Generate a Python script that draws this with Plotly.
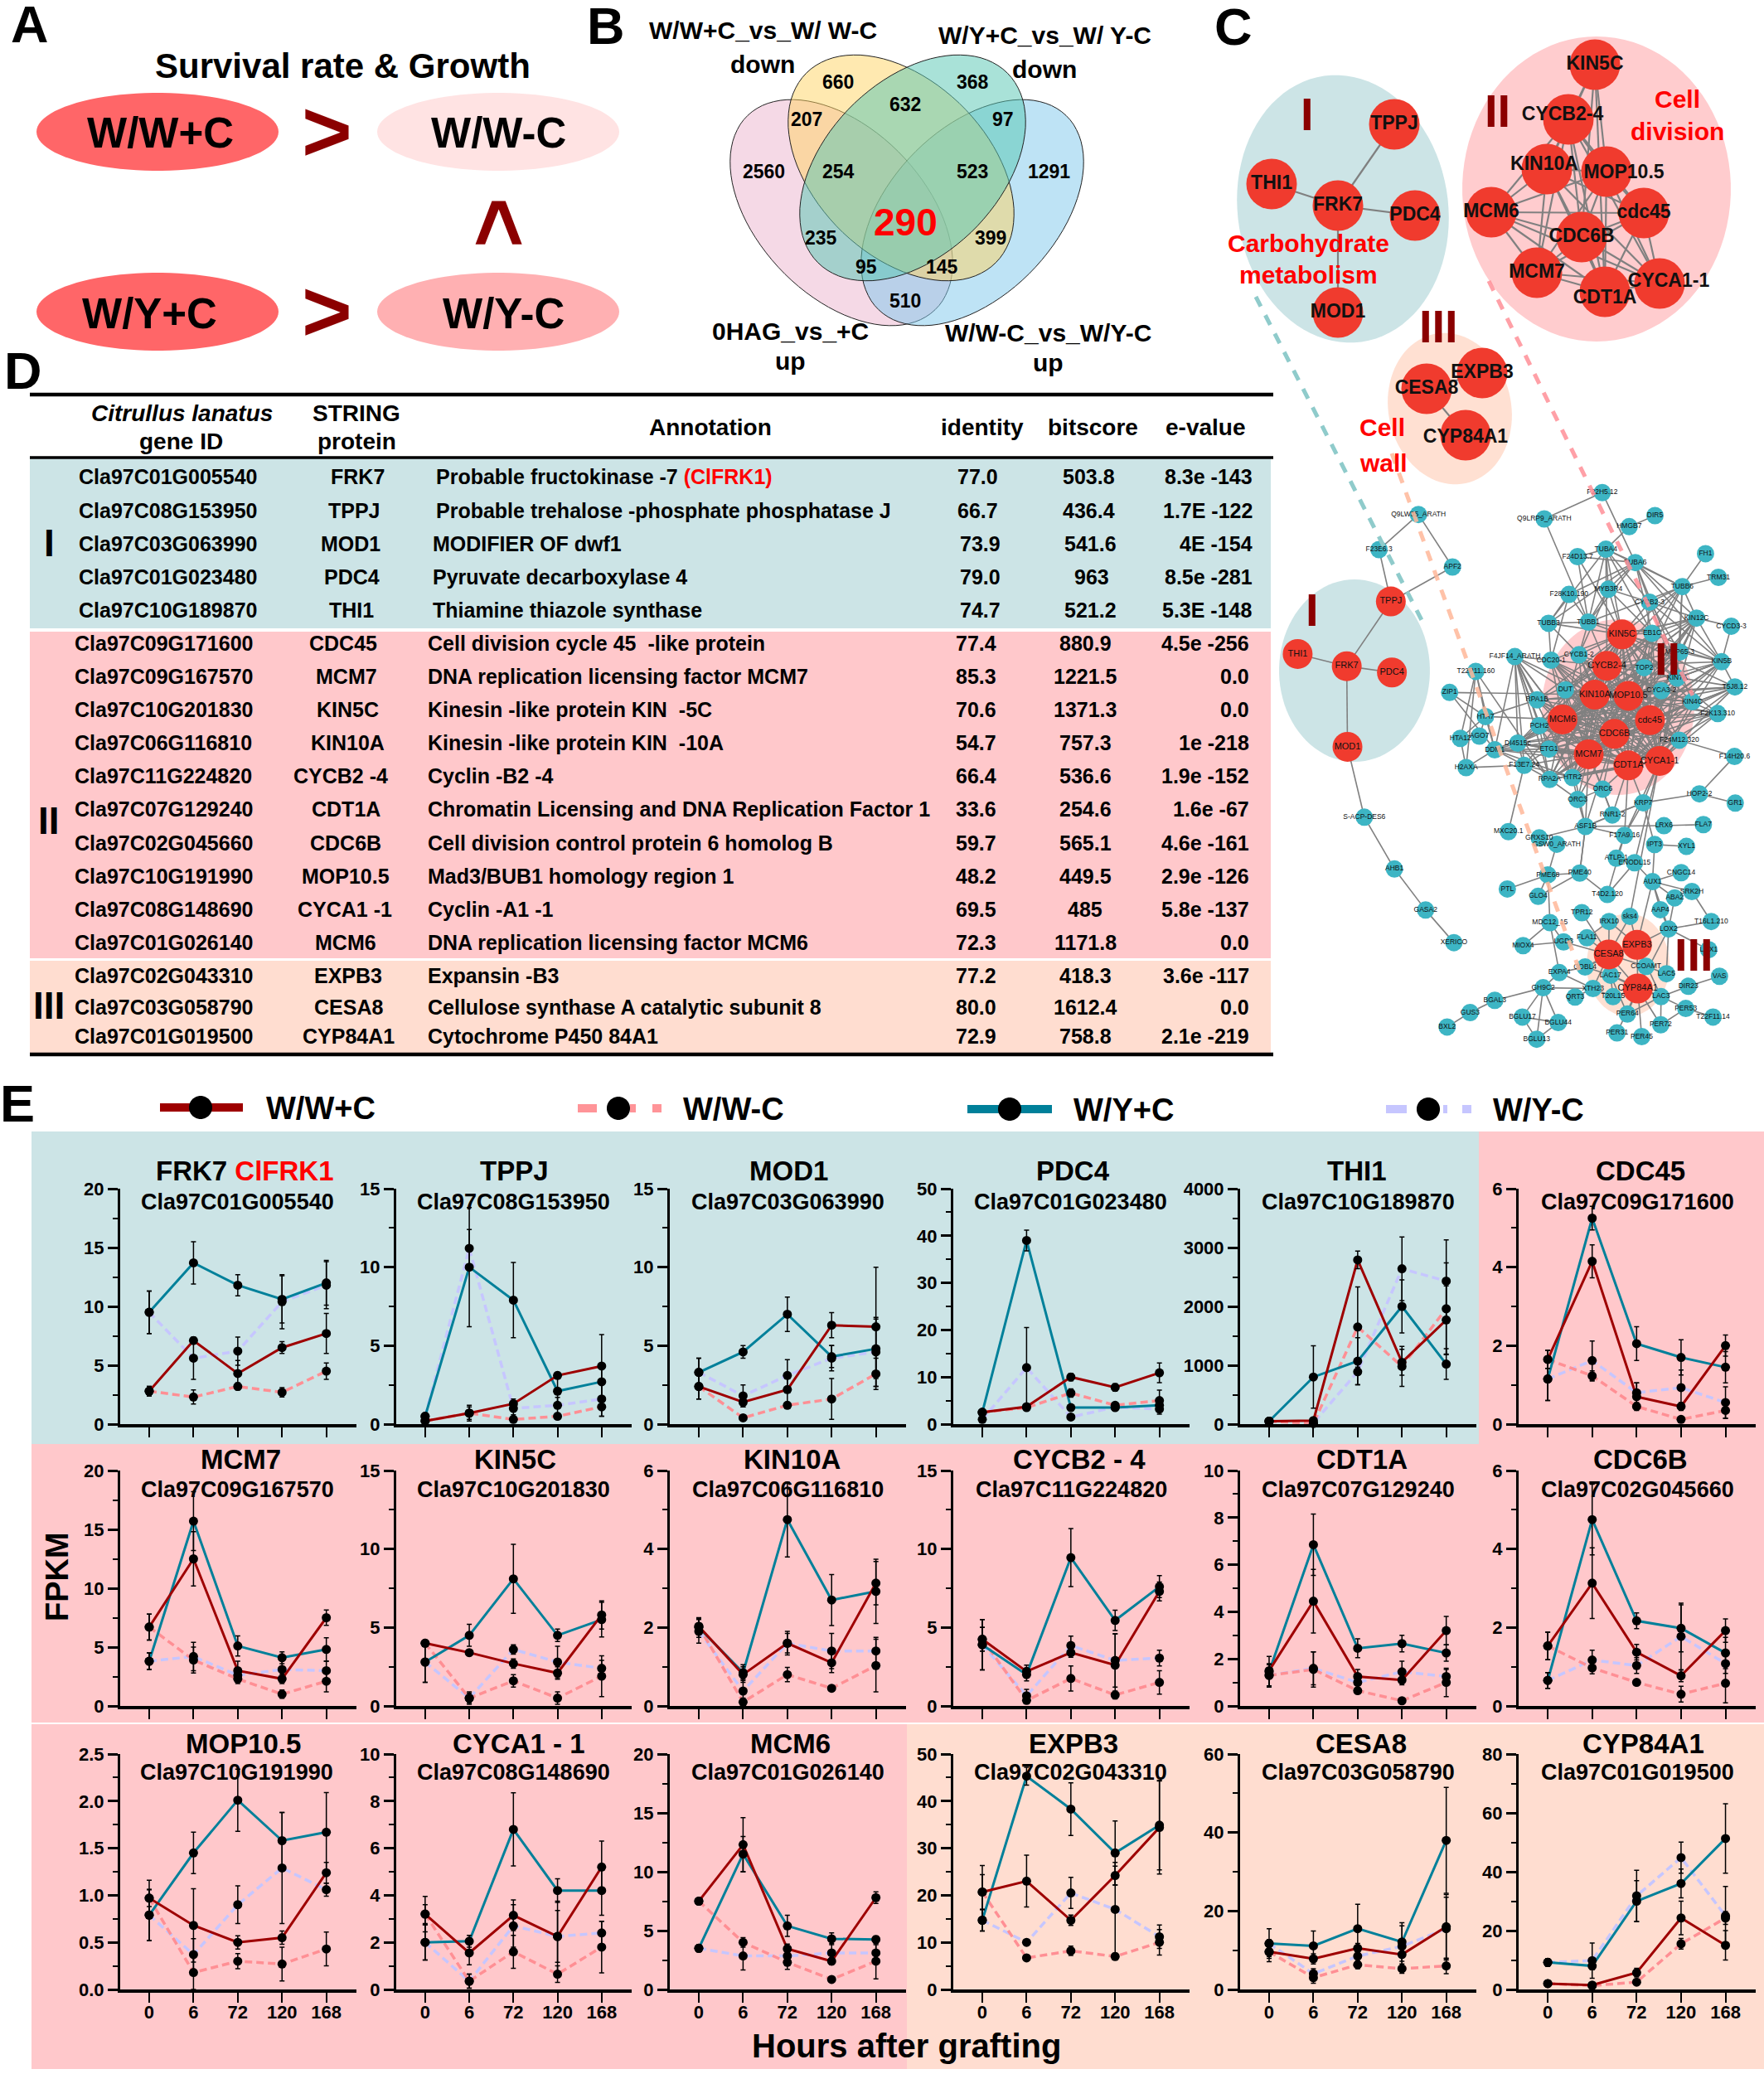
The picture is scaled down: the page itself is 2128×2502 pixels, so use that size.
import numpy as np
from itertools import combinations
import plotly.graph_objects as go

W, H = 2128, 2502
FONT = "Liberation Sans"

# ---------- panel E data ----------
HOURS = ["0", "6", "72", "120", "168"]
FRK7_A = [2.8, 7.1, 4.3, 6.5, 7.7];      FRK7_Ae = [.4, .2, 1.1, .5, 1.7]
FRK7_B = [2.8, 2.3, 3.2, 2.7, 4.5];      FRK7_Be = [.4, .6, .3, .4, .7]
FRK7_C = [9.5, 13.7, 11.8, 10.6, 12.0];  FRK7_Ce = [1.8, 1.8, .9, 2.0, 1.9]
FRK7_D = [9.5, 5.6, 6.2, 10.4, 11.8];    FRK7_De = [1.8, 1.8, 1.2, 2.3, 2.0]
TPPJ_A = [.2, .7, 1.3, 3.1, 3.7];        TPPJ_Ae = [.1, .5, .3, .2, 2.0]
TPPJ_B = [.2, .7, .3, .5, 1.1];          TPPJ_Be = [.1, .4, .1, .2, .6]
TPPJ_C = [.5, 10, 7.9, 2.1, 2.7];        TPPJ_Ce = [.2, 3.8, 2.4, .9, 1.0]
TPPJ_D = [.5, 11.2, 1.0, 1.2, 1.6];      TPPJ_De = [.2, 1.2, .4, .5, 1.1]
MOD1_A = [2.4, 1.4, 2.2, 6.3, 6.2];      MOD1_Ae = [.8, .3, 1.0, .8, 3.8]
MOD1_B = [2.4, .4, 1.2, 1.6, 3.2];       MOD1_Be = [.8, .2, .2, 1.3, 1.0]
MOD1_C = [3.3, 4.6, 7.0, 4.3, 4.8];      MOD1_Ce = [.9, .4, 1.1, .7, 1.9]
MOD1_D = [3.3, 1.8, 3.1, 4.2, 4.6];      MOD1_De = [.9, .7, 1.0, .8, 2.2]
PDC4_A = [2.5, 3.7, 10, 7.8, 10.9];      PDC4_Ae = [.3, .4, .8, .8, 2.1]
PDC4_B = [2.5, 3.5, 6.6, 4, 5];          PDC4_Be = [.3, .4, .9, .5, 2.2]
PDC4_C = [2.5, 39, 3.5, 3.5, 4];         PDC4_Ce = [.3, 2.2, .5, .4, 1.2]
PDC4_D = [1, 12, 1.5, 3.6, 3.2];         PDC4_De = [.2, 8.5, .4, .5, 1.1]
THI1_A = [50, 60, 2790, 1050, 1770];     THI1_Ae = [20, 20, 150, 220, 580]
THI1_B = [50, 10, 1650, 980, 1960];      THI1_Be = [20, 10, 680, 340, 780]
THI1_C = [50, 800, 1070, 2000, 1020];    THI1_Ce = [20, 530, 400, 450, 260]
THI1_D = [50, 20, 890, 2640, 2430];      THI1_De = [20, 10, 220, 540, 700]
CDC45_A = [1.65, 4.15, .7, .45, 2.0];    CDC45_Ae = [.23, .42, .35, .1, .27]
CDC45_B = [1.65, 1.23, .45, .12, .35];   CDC45_Be = [.23, .13, .05, .05, .2]
CDC45_C = [1.15, 5.25, 2.05, 1.7, 1.45]; CDC45_Ce = [.55, .3, .43, .45, .4]
CDC45_D = [1.15, 1.62, .8, .93, .55];    CDC45_De = [.55, .5, .25, .45, .4]
MCM7_A = [6.7, 12.5, 3, 2.3, 7.5];       MCM7_Ae = [1.1, 2.3, .8, .4, .65]
MCM7_B = [6.7, 3.9, 2.3, 1.0, 2.1];      MCM7_Be = [1.1, 1.1, .4, .35, .9]
MCM7_C = [3.8, 15.7, 5.1, 4.1, 4.8];     MCM7_Ce = [.7, 2.5, .85, .5, 1.0]
MCM7_D = [3.8, 4.2, 2.6, 3.1, 3.0];      MCM7_De = [.7, 1.2, .5, .9, .8]
KIN5C_A = [4, 3.4, 2.7, 2.1, 5.8];       KIN5C_Ae = [.1, .2, .3, .4, .9]
KIN5C_B = [4, .5, 1.6, .5, 1.9];         KIN5C_Be = [.1, .3, .4, .4, 1.3]
KIN5C_C = [2.8, 4.5, 8.1, 4.5, 5.5];     KIN5C_Ce = [1.3, .7, 2.2, .4, 1.1]
KIN5C_D = [2.8, .5, 3.6, 2.8, 2.4];      KIN5C_De = [1.3, .4, .3, 1.0, .5]
KIN10A_A = [2.03, .8, 1.6, 1.1, 3.13];   KIN10A_Ae = [.2, .2, .25, .25, .55]
KIN10A_B = [2.03, .1, .8, .45, 1.03];    KIN10A_Be = [.2, .1, .18, .05, .67]
KIN10A_C = [2.0, .85, 4.75, 2.7, 2.92];  KIN10A_Ce = [.25, .2, .95, .65, .82]
KIN10A_D = [1.9, .38, 1.6, 1.4, 1.4];    KIN10A_De = [.3, .3, .3, .45, .35]
CYCB_A = [4.25, 2.2, 3.4, 2.6, 7.3];     CYCB_Ae = [.75, .4, .3, 2.0, .6]
CYCB_B = [4.25, .35, 1.75, .7, 1.5];     CYCB_Be = [.75, .2, .8, .25, .75]
CYCB_C = [3.9, 2, 9.45, 5.45, 7.6];      CYCB_Ce = [1.6, .4, 1.85, .65, .7]
CYCB_D = [3.9, .65, 3.85, 2.9, 3.05];    CYCB_De = [1.6, .4, .6, 1.7, .5]
CDT1A_A = [1.5, 4.45, 1.25, 1.1, 3.2];   CDT1A_Ae = [.3, 1.35, .3, .2, .6]
CDT1A_B = [1.3, 1.55, .65, .22, 1.0];    CDT1A_Be = [.45, .75, .1, .1, .6]
CDT1A_C = [1.45, 6.85, 2.45, 2.65, 2.25]; CDT1A_Ce = [.65, 1.3, .4, .35, .35]
CDT1A_D = [1.3, 1.6, 1.0, 1.45, 1.25];   CDT1A_De = [.45, .7, .3, .45, .3]
CDC6B_A = [1.53, 3.13, 1.37, .77, 1.92]; CDC6B_Ae = [.35, .9, .2, .15, .3]
CDC6B_B = [1.53, .97, .6, .3, .58];      CDC6B_Be = [.35, .15, .05, .2, .5]
CDC6B_C = [.65, 4.75, 2.17, 1.98, 1.35]; CDC6B_Ce = [.2, .9, .2, .6, .4]
CDC6B_D = [.65, 1.17, 1.03, 1.77, 1.08]; CDC6B_De = [.2, .25, .2, .85, .25]
MOP_A = [.97, .68, .5, .55, 1.24];       MOP_Ae = [.19, .39, .07, .07, .11]
MOP_B = [.97, .18, .3, .27, .43];        MOP_Be = [.09, .18, .08, .18, .18]
MOP_C = [.79, 1.45, 2.01, 1.58, 1.67];   MOP_Ce = [.27, .22, .33, .3, .42]
MOP_D = [.79, .37, .9, 1.29, 1.06];      MOP_De = [.27, .17, .2, .59, .07]
CYCA_A = [3.2, 1.55, 3.15, 2.25, 5.2];   CYCA_Ae = [.75, .5, .65, 1.1, 1.1]
CYCA_B = [3.2, .35, 1.6, .65, 1.8];      CYCA_Be = [.4, .3, .7, .35, 1.1]
CYCA_C = [2, 2.05, 6.8, 4.2, 4.2];       CYCA_Ce = [.75, .25, 1.55, .5, 1.05]
CYCA_D = [2, .35, 2.7, 2.25, 2.4];       CYCA_De = [.75, .3, .9, 1.5, .5]
MCM6_A = [7.5, 12.3, 3.45, 2.4, 7.8];    MCM6_Ae = [.2, 2.3, .4, .3, .5]
MCM6_B = [7.5, 4, 2.3, .85, 2.4];        MCM6_Be = [.2, .4, .6, .1, 1.5]
MCM6_C = [3.5, 11.5, 5.4, 4.3, 4.25];    MCM6_Ce = [.3, 1.5, .9, .5, .3]
MCM6_D = [3.5, 2.85, 2.85, 3.1, 3.1];    MCM6_De = [.3, 1.2, .4, .8, .7]
EXPB3_A = [20.7, 23, 14.7, 24.2, 34.4];  EXPB3_Ae = [5.6, 5.5, 1.1, 2, 9.9]
EXPB3_B = [20.7, 6.7, 8.2, 7, 10];       EXPB3_Be = [3.7, .6, 1, .7, 2.7]
EXPB3_C = [14.7, 45.3, 38.3, 29, 34.9];  EXPB3_Ce = [2.3, 1.9, 5.6, 6.8, 9.5]
EXPB3_D = [14.7, 10, 20.5, 17, 11.2];    EXPB3_De = [2.3, .6, 3.3, 10, 2.5]
CESA8_A = [9.6, 7.8, 10.5, 8.9, 16];     CESA8_Ae = [1.2, 1.3, 1.2, 3.0, 8.2]
CESA8_B = [9.6, 3, 6.3, 5.3, 6];         CESA8_Be = [2.5, 1.4, 1.0, 1.2, 2]
CESA8_C = [11.7, 11.1, 15.5, 12.1, 38];  CESA8_Ce = [1.0, 3.8, 6.2, 4.9, 13.5]
CESA8_D = [11.7, 4, 8.5, 11, 15.5];      CESA8_De = [3.8, 1.3, 1.8, 5.2, 8]
CYP_A = [2, 1.5, 5.7, 24.3, 15];         CYP_Ae = [1, .5, 1.5, 5.7, 5]
CYP_B = [2, 1.3, 2.5, 15.5, 24.3];       CYP_Be = [1, .5, .5, 1.8, 2.2]
CYP_C = [9.2, 8, 30, 36, 51.3];          CYP_Ce = [1.3, 1.3, 7, 4.9, 11.8]
CYP_D = [9.2, 9.8, 31.8, 44.8, 25];      CYP_De = [1.3, 6, 8.7, 5.3, 10]

RED, PINK, TEAL, LAV = "#9E0000", "#FF8F94", "#00809A", "#C6C6FF"
BG_TEAL, BG_PINK, BG_PEACH = "#CCE4E6", "#FFC8CB", "#FFDDD0"
DARK = "#8B0000"

# title, id, ymax, dtick, series, ticks format
PANELS = [
 ("FRK7 <span style='color:#FF0000'>ClFRK1</span>", "Cla97C01G005540", 20, 5, (FRK7_A,FRK7_Ae,FRK7_B,FRK7_Be,FRK7_C,FRK7_Ce,FRK7_D,FRK7_De), 295, 286),
 ("TPPJ", "Cla97C08G153950", 15, 5, (TPPJ_A,TPPJ_Ae,TPPJ_B,TPPJ_Be,TPPJ_C,TPPJ_Ce,TPPJ_D,TPPJ_De), 620, 619),
 ("MOD1", "Cla97C03G063990", 15, 5, (MOD1_A,MOD1_Ae,MOD1_B,MOD1_Be,MOD1_C,MOD1_Ce,MOD1_D,MOD1_De), 951, 950),
 ("PDC4", "Cla97C01G023480", 50, 10, (PDC4_A,PDC4_Ae,PDC4_B,PDC4_Be,PDC4_C,PDC4_Ce,PDC4_D,PDC4_De), 1294, 1291),
 ("THI1", "Cla97C10G189870", 4000, 1000, (THI1_A,THI1_Ae,THI1_B,THI1_Be,THI1_C,THI1_Ce,THI1_D,THI1_De), 1637, 1638),
 ("CDC45", "Cla97C09G171600", 6, 2, (CDC45_A,CDC45_Ae,CDC45_B,CDC45_Be,CDC45_C,CDC45_Ce,CDC45_D,CDC45_De), 1979, 1975),
 ("MCM7", "Cla97C09G167570", 20, 5, (MCM7_A,MCM7_Ae,MCM7_B,MCM7_Be,MCM7_C,MCM7_Ce,MCM7_D,MCM7_De), 290, 286),
 ("KIN5C", "Cla97C10G201830", 15, 5, (KIN5C_A,KIN5C_Ae,KIN5C_B,KIN5C_Be,KIN5C_C,KIN5C_Ce,KIN5C_D,KIN5C_De), 621, 619),
 ("KIN10A", "Cla97C06G116810", 6, 2, (KIN10A_A,KIN10A_Ae,KIN10A_B,KIN10A_Be,KIN10A_C,KIN10A_Ce,KIN10A_D,KIN10A_De), 955, 950),
 ("CYCB2 - 4", "Cla97C11G224820", 15, 5, (CYCB_A,CYCB_Ae,CYCB_B,CYCB_Be,CYCB_C,CYCB_Ce,CYCB_D,CYCB_De), 1302, 1292),
 ("CDT1A", "Cla97C07G129240", 10, 2, (CDT1A_A,CDT1A_Ae,CDT1A_B,CDT1A_Be,CDT1A_C,CDT1A_Ce,CDT1A_D,CDT1A_De), 1643, 1638),
 ("CDC6B", "Cla97C02G045660", 6, 2, (CDC6B_A,CDC6B_Ae,CDC6B_B,CDC6B_Be,CDC6B_C,CDC6B_Ce,CDC6B_D,CDC6B_De), 1979, 1975),
 ("MOP10.5", "Cla97C10G191990", 2.5, .5, (MOP_A,MOP_Ae,MOP_B,MOP_Be,MOP_C,MOP_Ce,MOP_D,MOP_De), 293, 285),
 ("CYCA1 - 1", "Cla97C08G148690", 10, 2, (CYCA_A,CYCA_Ae,CYCA_B,CYCA_Be,CYCA_C,CYCA_Ce,CYCA_D,CYCA_De), 626, 619),
 ("MCM6", "Cla97C01G026140", 20, 5, (MCM6_A,MCM6_Ae,MCM6_B,MCM6_Be,MCM6_C,MCM6_Ce,MCM6_D,MCM6_De), 953, 950),
 ("EXPB3", "Cla97C02G043310", 50, 10, (EXPB3_A,EXPB3_Ae,EXPB3_B,EXPB3_Be,EXPB3_C,EXPB3_Ce,EXPB3_D,EXPB3_De), 1295, 1291),
 ("CESA8", "Cla97C03G058790", 60, 20, (CESA8_A,CESA8_Ae,CESA8_B,CESA8_Be,CESA8_C,CESA8_Ce,CESA8_D,CESA8_De), 1642, 1638),
 ("CYP84A1", "Cla97C01G019500", 80, 20, (CYP_A,CYP_Ae,CYP_B,CYP_Be,CYP_C,CYP_Ce,CYP_D,CYP_De), 1982, 1975),
]
AX_LEFT = [145, 478, 808, 1150, 1496, 1832]
AX_RIGHT = [430, 762, 1093, 1435, 1781, 2118]
ROWS = [(1434, 1718, 1412, 1450), (1774, 2058, 1760, 1797), (2116, 2400, 2103, 2138)]

# ---------- table ----------
T_GENE = ["Cla97C01G005540","Cla97C08G153950","Cla97C03G063990","Cla97C01G023480","Cla97C10G189870",
          "Cla97C09G171600","Cla97C09G167570","Cla97C10G201830","Cla97C06G116810","Cla97C11G224820",
          "Cla97C07G129240","Cla97C02G045660","Cla97C10G191990","Cla97C08G148690","Cla97C01G026140",
          "Cla97C02G043310","Cla97C03G058790","Cla97C01G019500"]
T_PROT = ["FRK7","TPPJ","MOD1","PDC4","THI1","CDC45","MCM7","KIN5C","KIN10A","CYCB2 -4","CDT1A","CDC6B",
          "MOP10.5","CYCA1 -1","MCM6","EXPB3","CESA8","CYP84A1"]
T_ANNO = ["Probable fructokinase -7 <span style='color:#FF0000'>(ClFRK1)</span>",
          "Probable trehalose -phosphate phosphatase J","MODIFIER OF dwf1","Pyruvate decarboxylase 4",
          "Thiamine thiazole synthase","Cell division cycle 45  -like protein",
          "DNA replication licensing factor MCM7","Kinesin -like protein KIN  -5C",
          "Kinesin -like protein KIN  -10A","Cyclin -B2 -4",
          "Chromatin Licensing and DNA Replication Factor 1","Cell division control protein 6 homolog B",
          "Mad3/BUB1 homology region 1","Cyclin -A1 -1","DNA replication licensing factor MCM6",
          "Expansin -B3","Cellulose synthase A catalytic subunit 8","Cytochrome P450 84A1"]
T_IDENT = ["77.0","66.7","73.9","79.0","74.7","77.4","85.3","70.6","54.7","66.4","33.6","59.7","48.2","69.5","72.3","77.2","80.0","72.9"]
T_BITS = ["503.8","436.4","541.6","963","521.2","880.9","1221.5","1371.3","757.3","536.6","254.6","565.1","449.5","485","1171.8","418.3","1612.4","758.8"]
T_EVAL = ["8.3e -143","1.7E -122","4E -154","8.5e -281","5.3E -148","4.5e -256","0.0","0.0","1e -218","1.9e -152","1.6e -67",
          "4.6e -161","2.9e -126","5.8e -137","0.0","3.6e -117","0.0","2.1e -219"]
# table layout
ROW_Y = [575,616,656,696,736,776,816,856,896,936,976,1017,1057,1097,1137,1177,1215,1250]
GENE_X = [93]*5 + [88]*13
PROT_X = [431,427,423,424,424,414,418,419,419,411,417,417,417,416,417,420,420,420]
ANNO_X = [524,524,520,520,520] + [514]*13
IDENT_X = [1179,1179,1182,1182,1182] + [1177]*13
BITS_X = [1313,1313,1315,1317,1315] + [1309]*13
EVAL_X = [1513]*5 + [1509]*13

# ---------- Venn ----------
VENN_NUM = ["660","368","632","207","97","2560","254","523","1291","235","399","95","145","510"]
VENN_POS = [(1011,99),(1173,99),(1092,126),(973,144),(1210,144),(921,207),(1011,207),(1173,207),(1265,207),
            (990,287),(1195,287),(1045,322),(1136,322),(1092,363)]

# ---------- network: node layout ----------
def z3(p):  # crop position to page position
    return (1450 + p[0] / 2.313, 580 + p[1] / 2.24)

UP_POS = {"TPPJ":(1682,150),"THI1":(1534,222),"FRK7":(1614,248),"PDC4":(1707,260),"MOD1":(1614,377),
 "KIN5C":(1924,78),"CYCB2-4":(1892,144),"KIN10A":(1866,204),"MOP10.5":(1938,207),"MCM6":(1799,256),
 "cdc45":(1983,257),"CDC6B":(1908,286),"MCM7":(1854,329),"CDT1A":(1936,352),"CYCA1-1":(2002,342),
 "EXPB3":(1788,450),"CESA8":(1721,469),"CYP84A1":(1768,525)}
UP_LAB = {"CYCB2-4":(1885,139),"MOP10.5":(1959,209),"CDT1A":(1936,360),"CYCA1-1":(2013,340),"KIN10A":(1863,199),"CYP84A1":(1768,528)}
CORE = ["KIN5C","CYCB2-4","KIN10A","MOP10.5","MCM6","cdc45","CDC6B","MCM7","CDT1A","CYCA1-1"]
UP_EDGES = [("FRK7",n) for n in ["TPPJ","THI1","PDC4","MOD1"]] + [("EXPB3","CESA8"),("CESA8","CYP84A1")] + \
           [(a,b) for a,b in combinations(CORE,2) if (a,b) not in [("KIN5C","MCM6"),("KIN5C","cdc45"),("KIN5C","CYCA1-1"),("KIN5C","MCM7")]]

LOW_BIG = {"TPPJ":(527,326),"THI1":(267,468),"FRK7":(404,501),"PDC4":(530,518),"MOD1":(406,719),
 "KIN5C":(1172,415),"CYCB2-4":(1130,500),"KIN10A":(1096,578),"MOP10.5":(1190,581),"MCM6":(1006,645),
 "cdc45":(1250,647),"CDC6B":(1151,684),"MCM7":(1079,739),"CDT1A":(1190,769),"CYCA1-1":(1277,757),
 "EXPB3":(1214,1254),"CESA8":(1135,1280),"CYP84A1":(1216,1372)}
LOW_SMALL = {"Q9LW35_ARATH":(604,91),"F23E6.3":(494,186),"APF2":(699,233),"S-ACP-DES6":(453,909),"AHB1":(537,1049),
 "GASA2":(624,1160),"XERICO":(703,1248),"F22H5.12":(1117,32),"Q9LRP9_ARATH":(955,103),"HMGB7":(1192,124),"DIR5":(1264,94),
 "TUBA4":(1127,185),"F24D13.7":(1048,205),"TUBA6":(1209,221),"FH1":(1405,197),"TRM31":(1441,261),"TUBB6":(1340,286),
 "MYB3R4":(1134,293),"F28K10.190":(1024,307),"CYCB2-3":(1249,328),"KIN12C":(1380,371),"CYCD3-3":(1477,393),"TUBB3":(967,385),
 "TUBB1":(1078,382),"EB1C":(1256,412),"KIN5B":(1450,489),"MAP65-3":(1333,463),"CYCB1-2":(1052,470),"F4JF14_ARATH":(873,475),
 "CDC20-1":(974,485),"TOP2":(1234,505),"KIN7A":(1326,533),"T5J8.12":(1487,557),"T22P11.160":(764,515),"ZIP1":(691,572),
 "RPA1B":(935,592),"DUT":(1014,565),"CYCA3-2":(1282,567),"KIN4C":(1368,597),"F2K13.310":(1439,629),"HTA7":(791,637),
 "PCH2":(941,662),"HTA12":(721,696),"AGO7":(774,690),"DDM1":(817,727),"DI4515c":(881,709),"ETG1":(968,725),
 "F24M12.320":(1332,701),"F14H20.6":(1486,745),"H2AXA":(737,775),"F13E7.24":(899,769),"RPA2A":(970,807),"HTR2":(1034,802),
 "ORC6":(1118,833),"ORC3":(1048,861),"KRP7":(1231,870),"HOP2-2":(1388,846),"GR1":(1488,871),"RNR1-2":(1145,903),
 "ASF1B":(1070,934),"MXC20.1":(855,948),"GRXS10":(941,965),"F17A9.16":(1179,958),"LRX6":(1289,932),"FLA7":(1399,929),
 "GSW0_ARATH":(990,982),"IPT3":(1263,983),"XYL1":(1352,988),"ATLP-1":(1156,1020),"ENODL15":(1207,1032),"PME68":(965,1065),
 "PME40":(1054,1060),"CNGC14":(1337,1059),"AUX1":(1257,1083),"PTL":(852,1103),"GLO4":(938,1123),"T4D2.120":(1131,1118),
 "ABA2":(1319,1127),"SRK2H":(1367,1110),"TPR12":(1060,1167),"AAP4":(1279,1159),"sks4":(1194,1177),"MDC12_15":(971,1194),
 "IRX10":(1136,1191),"T16L1.210":(1421,1191),"LOX2":(1302,1211),"FLA11":(1074,1235),"MIOX4":(896,1256),"UGD3":(1009,1246),
 "LOX1":(1414,1267),"EXPA4":(997,1329),"COBL4":(1069,1314),"CCOAMT":(1239,1312),"LAC5":(1296,1332),"VAS":(1444,1339),
 "LAC17":(1140,1336),"DIR23":(1357,1366),"GH9C2":(952,1370),"XTH23":(1091,1372),"LAC3":(1281,1394),"QRT3":(1041,1395),
 "T20L15":(1147,1394),"BGAL3":(817,1404),"PER53":(1350,1426),"GUS3":(748,1437),"PER64":(1187,1441),"T22F11.14":(1426,1449),
 "BGLU17":(894,1449),"BGLU44":(994,1464),"PER72":(1280,1470),"BXL2":(684,1476),"PER31":(1158,1492),"PER45":(1227,1502),
 "BGLU13":(934,1509)}
RIM = ["DUT","TOP2","CYCA3-2","KIN7A","MAP65-3","EB1C","CYCB1-2","CDC20-1","RPA1B","PCH2","ETG1","HTR2","RPA2A",
       "F24M12.320","KIN4C","F2K13.310","KIN5B","T5J8.12","KIN12C","DI4515c"]
LINKS = {
 "FRK7":["TPPJ","THI1","PDC4","MOD1"],"TPPJ":["F23E6.3","APF2"],"Q9LW35_ARATH":["F23E6.3","APF2"],"MOD1":["S-ACP-DES6"],
 "AHB1":["S-ACP-DES6","GASA2"],"GASA2":["XERICO"],"F22H5.12":["Q9LRP9_ARATH","TUBA6"],"Q9LRP9_ARATH":["TUBB1"],"HMGB7":["DIR5","TUBA4"],
 "F4JF14_ARATH":["DUT","RPA1B","PCH2","ETG1","RPA2A","F13E7.24","CDC20-1","DI4515c","MCM6","KIN10A","MCM7","HTR2","DDM1"],
 "TUBA4":["TUBB1","TUBB3","TUBA6","TUBB6","MYB3R4","F24D13.7","EB1C","KIN5C","CYCB2-3","CYCB2-4"],
 "TUBA6":["TUBB6","KIN12C","KIN5B","TUBB3","TUBB1","MYB3R4","F24D13.7","F28K10.190","CYCB2-3","EB1C","KIN4C"],
 "TUBB6":["FH1","TRM31","KIN12C","MAP65-3","EB1C","KIN5C","CYCB2-3","KIN7A","TUBB1","TOP2","CYCB2-4"],
 "KIN5B":["KIN12C","CYCD3-3","MAP65-3","KIN7A","T5J8.12","EB1C","CYCB2-3"],"TUBB3":["TUBB1","CDC20-1","KIN5C","CYCB1-2","F28K10.190"],
 "TUBB1":["KIN5C","CYCB2-4","EB1C","CYCB1-2","MYB3R4"],"F24D13.7":["TUBB1","KIN5C"],"MYB3R4":["KIN5C","CYCB2-3","CYCB1-2","EB1C"],
 "F28K10.190":["CDC20-1","TUBB1"],"CYCB2-3":["KIN5C","TOP2","KIN12C","MAP65-3","KIN7A"],"KIN12C":["CYCD3-3","MAP65-3","KIN5C","EB1C"],
 "T22P11.160":["HTA12","H2AXA","HTA7","DDM1","RPA2A"],"ZIP1":["HTA7","KIN10A","DDM1"],"HTA7":["MCM6","AGO7","DDM1","HTA12","RPA1B"],
 "H2AXA":["F13E7.24","HTA12","DDM1"],"DDM1":["F13E7.24","MCM7","MCM6","CDC6B","HTR2","ETG1","DI4515c","CDT1A"],
 "DI4515c":["ETG1","F13E7.24","RPA2A"],"F13E7.24":["MCM7","RPA2A","HTR2","MXC20.1","ETG1","MCM6"],"PCH2":["HTR2","RPA2A"],
 "KRP7":["HOP2-2","CDT1A","CYCA1-1","RNR1-2","ASF1B","F17A9.16","IPT3"],"HOP2-2":["GR1","F14H20.6"],"F24M12.320":["F14H20.6"],
 "ORC3":["ORC6","HTR2","RPA2A","ASF1B","MCM7","CDC6B"],"ORC6":["CDC6B","MCM7","RNR1-2","HTR2","CDT1A"],"RNR1-2":["ASF1B","CDT1A","MCM7"],
 "ASF1B":["GRXS10","LRX6","MCM7","CDC6B","PME40","F17A9.16","MCM6"],"LRX6":["FLA7"],"F17A9.16":["CYCA1-1","CDT1A","T4D2.120","ATLP-1"],
 "IPT3":["XYL1","AUX1"],"ENODL15":["AUX1","ATLP-1","T4D2.120","CYCA1-1"],"PME68":["PTL","GLO4","PME40","GSW0_ARATH","MDC12_15"],
 "PME40":["GLO4","ASF1B","T4D2.120"],"AUX1":["CNGC14","ABA2","SRK2H","AAP4","LOX2","EXPB3"],"ABA2":["LOX2"],"SRK2H":["T16L1.210"],
 "LOX2":["T16L1.210","LOX1","EXPB3","AAP4","LAC5","CYP84A1"],"TPR12":["CESA8"],"IRX10":["CESA8","EXPB3","FLA11"],"sks4":["EXPB3","CESA8","CYCA1-1"],
 "FLA11":["CESA8"],"MDC12_15":["MIOX4","UGD3","EXPA4"],"UGD3":["CESA8","MIOX4"],"EXPA4":["COBL4","GH9C2","XTH23"],"COBL4":["CESA8","LAC17","EXPB3"],
 "CCOAMT":["CYP84A1","EXPB3","CESA8","LAC5"],"LAC17":["CESA8","CYP84A1","T20L15","LAC3","PER64"],"XTH23":["CESA8","QRT3","T20L15"],
 "LAC3":["CYP84A1","DIR23","PER53","PER72","PER64","EXPB3"],"DIR23":["VAS"],"PER53":["T22F11.14","PER72"],"CYP84A1":["PER64","PER31","PER45","PER72","EXPB3","CESA8","T20L15"],
 "GH9C2":["BGAL3","BGLU17","BGLU44","BGLU13","XTH23"],"BGAL3":["GUS3"],"GUS3":["BXL2"],"BGLU17":["BGLU44","BGLU13"],"BGLU44":["BGLU13"],"EXPB3":["CESA8"],
}

# ---------- helpers ----------
shapes, annos = [], []

def ellipse_path(cx, cy, rx, ry, deg=0.0):
    t = np.linspace(0, 2 * np.pi, 90, endpoint=False)
    a = np.radians(deg)
    x = cx + rx * np.cos(t) * np.cos(a) - ry * np.sin(t) * np.sin(a)
    y = cy + rx * np.cos(t) * np.sin(a) + ry * np.sin(t) * np.cos(a)
    return "M" + " L".join(f"{p:.1f},{q:.1f}" for p, q in zip(x, y)) + " Z"

def ell(cx, cy, rx, ry, fill, deg=0.0, line=None, lw=0, layer="below"):
    shapes.append(dict(type="path", xref="x", yref="y", path=ellipse_path(cx, cy, rx, ry, deg), fillcolor=fill,
                       line=dict(color=line or "rgba(0,0,0,0)", width=lw), layer=layer))

def rect(x0, y0, x1, y1, fill, layer="below"):
    shapes.append(dict(type="rect", xref="x", yref="y", x0=x0, y0=y0, x1=x1, y1=y1, fillcolor=fill, line=dict(width=0), layer=layer))

def seg(x0, y0, x1, y1, color, width, dash="solid", layer="above", opacity=1):
    shapes.append(dict(type="line", xref="x", yref="y", x0=x0, y0=y0, x1=x1, y1=y1, opacity=opacity,
                       line=dict(color=color, width=width, dash=dash), layer=layer))

def T(x, y, text, size, color="#000000", anchor="center", weight=700, style="normal", angle=0):
    annos.append(dict(xref="x", yref="y", x=x, y=y, text=text, showarrow=False, xanchor=anchor, yanchor="middle", textangle=angle,
                      align=anchor if anchor != "center" else "center",
                      font=dict(family=FONT, size=size, color=color, weight=weight, style=style)))

fig = go.Figure()

# page-wide axes that carry the decoration and network panels
layout_axes = dict(
    xaxis=dict(domain=[0, 1], range=[0, W], visible=False, fixedrange=True, automargin=False),
    yaxis=dict(domain=[0, 1], range=[H, 0], visible=False, fixedrange=True, automargin=False),
)

# ---------- panel A ----------
for n, (x, y, f) in {"W/W+C": (190, 159, "#FF6668"), "W/W-C": (601, 159, "#FFE3E3"),
                     "W/Y+C": (190, 376, "#FF6668"), "W/Y-C": (601, 376, "#FFB0B2")}.items():
    ell(x, y, 146, 47, f)
T(413, 79, "Survival rate &amp; Growth", 42)
T(193, 160, "W/W+C", 51); T(601, 160, "W/W-C", 51); T(180, 378, "W/Y+C", 51); T(607, 378, "W/Y-C", 51)
T(394, 158, "&gt;", 104, DARK); T(394, 375, "&gt;", 104, DARK); T(600, 269, "&gt;", 104, DARK, angle=-90)

# ---------- panel B ----------
ell(1015, 256.5, 162.8, 100.5, "rgba(233,171,199,0.45)", deg=46, line="#222222", lw=1)
ell(1173, 256.5, 162.8, 100.5, "rgba(125,199,235,0.50)", deg=-46, line="#222222", lw=1)
ell(1087, 202.5, 161.7, 104.8, "rgba(255,211,97,0.50)", deg=45, line="#222222", lw=1)
ell(1101, 202.5, 161.7, 104.8, "rgba(90,200,180,0.52)", deg=-45, line="#222222", lw=1)
for s, (x, y) in zip(VENN_NUM, VENN_POS):
    T(x, y, s, 23)
T(1092, 268, "290", 46, "#FF0000")
T(920, 36, "W/W+C_vs_W/ W-C", 30); T(920, 77, "down", 30)
T(1260, 42, "W/Y+C_vs_W/ Y-C", 30); T(1260, 83, "down", 30)
T(953, 399, "0HAG_vs_+C", 30); T(953, 435, "up", 30)
T(1264, 401, "W/W-C_vs_W/Y-C", 30); T(1264, 437, "up", 30)

# ---------- panel letters ----------
for s, x, y in [("A", 36, 29), ("B", 731, 31), ("C", 1488, 32), ("D", 28, 447), ("E", 21, 1331)]:
    T(x, y, s, 63)

# ---------- panel C ----------
ell(1620, 252, 162, 127, BG_TEAL, deg=82)
ell(1926, 228, 184, 162, "#FFCCCE", deg=90)
ell(1749, 493, 92, 74, "#FFE0D2", deg=78)
ell(1634, 809, 110, 91, BG_TEAL, deg=90)
ell(1952, 853, 106, 92, "#FFCCCE", deg=90)
ell(1964, 1164, 62, 50, "#FFE0D2", deg=90)

def edge_trace(pos, edges, width):
    xs, ys = [], []
    for a, b in edges:
        xs += [pos[a][0], pos[b][0], None]
        ys += [pos[a][1], pos[b][1], None]
    return go.Scatter(x=xs, y=ys, mode="lines", line=dict(color="#808080", width=width), hoverinfo="skip", showlegend=False, xaxis="x", yaxis="y")

def node_trace(pos, names, size, color):
    return go.Scatter(x=[pos[n][0] for n in names], y=[pos[n][1] for n in names], mode="markers",
                      marker=dict(size=size, color=color, line=dict(width=0)), hoverinfo="skip", showlegend=False, xaxis="x", yaxis="y")

def label_trace(pos, names, fsize, weight=400, labels=None):
    labels = labels or {}
    return go.Scatter(x=[labels.get(n, pos[n])[0] for n in names], y=[labels.get(n, pos[n])[1] for n in names], text=names,
                      mode="text", textposition="middle center", textfont=dict(family=FONT, size=fsize, color="#111111", weight=weight),
                      hoverinfo="skip", showlegend=False, xaxis="x", yaxis="y", cliponaxis=False)

low_pos = {k: z3(v) for k, v in {**LOW_BIG, **LOW_SMALL}.items()}
low_edges = [(a, b) for a, bs in LINKS.items() for b in bs]
low_edges += [(a, b) for a, b in combinations(CORE, 2)] + [(r, c) for r in RIM for c in CORE]
fig.add_trace(edge_trace(low_pos, low_edges, 1.6))
fig.add_trace(edge_trace(UP_POS, UP_EDGES, 2.2))
fig.add_trace(node_trace(low_pos, list(LOW_SMALL), 21, "#3DB5C4"))
fig.add_trace(node_trace(low_pos, list(LOW_BIG), 36, "#F03B2E"))
fig.add_trace(node_trace(UP_POS, list(UP_POS), 61, "#F03B2E"))
fig.add_trace(label_trace(low_pos, list(LOW_SMALL), 8.5))
fig.add_trace(label_trace(low_pos, list(LOW_BIG), 11))
fig.add_trace(label_trace(UP_POS, list(UP_POS), 23, weight=700, labels=UP_LAB))

T(1578, 293, "Carbohydrate", 30, "#FF0000"); T(1578, 331, "metabolism", 30, "#FF0000")
T(2023, 119, "Cell", 30, "#FF0000"); T(2023, 158, "division", 30, "#FF0000")
T(1667, 515, "Cell", 30, "#FF0000"); T(1669, 558, "wall", 30, "#FF0000")
for s, x, y in [("I", 1577, 137), ("II", 1806, 133), ("III", 1735, 393), ("I", 1583, 735), ("II", 2011, 794), ("III", 2043, 1151)]:
    T(x, y, s, 56, DARK)
seg(1515, 358, 1716, 750, "#8FCBCB", 5, "13px,12px")
seg(1679, 547, 1908, 1178, "#FFB89A", 5, "13px,12px", opacity=.85)
seg(1796, 339, 2042, 839, "#FF9098", 5, "13px,12px", opacity=.85)

# ---------- panel D ----------
rect(36, 553, 1533, 758, BG_TEAL)
rect(36, 762, 1533, 1156, BG_PINK)
rect(36, 1159, 1533, 1270, BG_PEACH)
seg(36, 476, 1536, 476, "#000000", 4.5)
seg(36, 552, 1536, 552, "#000000", 3.5)
seg(36, 1272, 1536, 1272, "#000000", 4.5)
T(219, 498, "Citrullus lanatus", 28, style="italic"); T(218, 532, "gene ID", 28)
T(430, 498, "STRING", 28); T(430, 532, "protein", 28)
T(857, 515, "Annotation", 28); T(1185, 515, "identity", 28); T(1318, 515, "bitscore", 28); T(1454, 515, "e-value", 28)
T(59, 655, "I", 46); T(59, 990, "II", 46); T(59, 1213, "III", 46)
for i, y in enumerate(ROW_Y):
    T(GENE_X[i], y, T_GENE[i], 25, anchor="left")
    T(PROT_X[i], y, T_PROT[i], 25)
    T(ANNO_X[i], y, T_ANNO[i], 25, anchor="left")
    T(IDENT_X[i], y, T_IDENT[i], 25)
    T(BITS_X[i], y, T_BITS[i], 25)
    T(EVAL_X[i], y, T_EVAL[i], 25, anchor="right")

# ---------- panel E: backgrounds and legend ----------
rect(38, 1365, 1784, 1742, BG_TEAL)
rect(1784, 1365, 2128, 1742, BG_PINK)
rect(38, 1742, 2128, 2078, BG_PINK)
rect(38, 2080, 1094, 2496, BG_PINK)
rect(1094, 2080, 2128, 2496, BG_PEACH)

for x0, x1, xm, y, c in [(193, 293, 242, 1336, RED), (1167, 1269, 1218, 1338, "#00809A")]:
    seg(x0, y, x1, y, c, 10)
    ell(xm, y, 14, 14, "#000000", layer="above")
for segs, xm, y, c in [([(697, 720), (760, 767), (787, 798)], 746, 1337, "#FF9498"),
                       ([(1672, 1697), (1741, 1746), (1764, 1775)], 1723, 1338, LAV)]:
    for a, b in segs:
        seg(a, y, b, y, c, 10)
    ell(xm, y, 14, 14, "#000000", layer="above")
T(319, 1337, "W/W+C", 38, anchor="left"); T(822, 1338, "W/W-C", 38, anchor="left")
T(1293, 1339, "W/Y+C", 38, anchor="left"); T(1799, 1339, "W/Y-C", 38, anchor="left")
T(69, 1902, "FPKM", 38, angle=-90)
T(1093, 2468, "Hours after grafting", 40)

# ---------- panel E: charts ----------
for k, (title, gid, ymax, dt, ser, tx, sx) in enumerate(PANELS):
    r, c = divmod(k, 6)
    top, bot, ty, sy = ROWS[r]
    n = k + 2
    xa, ya = f"xaxis{n}", f"yaxis{n}"
    layout_axes[xa] = dict(
        domain=[AX_LEFT[c] / W, AX_RIGHT[c] / W], anchor=f"y{n}", type="category", automargin=False,
        categoryorder="array", categoryarray=HOURS, range=[-0.655, 4.68],
        showline=True, linecolor="#000000", linewidth=4, ticks="outside", ticklen=12, tickwidth=2, tickcolor="#000000",
        showticklabels=(r == 2), ticklabelstandoff=-7, tickfont=dict(family=FONT, size=22, color="#000000", weight=700),
        showgrid=False, zeroline=False, fixedrange=True)
    layout_axes[ya] = dict(
        domain=[1 - bot / H, 1 - top / H], anchor=f"x{n}", range=[0, ymax], dtick=dt, tick0=0, automargin=False,
        showline=True, linecolor="#000000", linewidth=3, ticks="outside", ticklen=12, tickwidth=3, tickcolor="#000000",
        minor=dict(dtick=dt / 2, tick0=0, ticks="outside", ticklen=6, tickwidth=2, tickcolor="#000000", showgrid=False),
        tickformat=".1f" if ymax == 2.5 else "d",
        tickfont=dict(family=FONT, size=22, color="#000000", weight=700),
        showgrid=False, zeroline=False, fixedrange=True)
    order = [3, 1, 2, 0]  # W/Y-C, W/W-C, W/Y+C, W/W+C
    colors = [RED, PINK, TEAL, LAV]
    dashes = ["solid", "9px,5px", "solid", "9px,5px"]
    widths = [3, 3.5, 3, 3.5]
    for s in order:
        fig.add_trace(go.Scatter(
            x=HOURS, y=ser[2 * s], mode="lines", line=dict(color=colors[s], width=widths[s], dash=dashes[s]),
            hoverinfo="skip", showlegend=False, xaxis=f"x{n}", yaxis=f"y{n}", cliponaxis=False))
    for s in order:
        fig.add_trace(go.Scatter(
            x=HOURS, y=ser[2 * s], mode="markers", marker=dict(color="#000000", size=11),
            error_y=dict(type="data", array=ser[2 * s + 1], color="#000000", thickness=1.5, width=3),
            hoverinfo="skip", showlegend=False, xaxis=f"x{n}", yaxis=f"y{n}", cliponaxis=False))
    T(tx, ty, title, 33)
    T(sx, sy, gid, 27)

fig.update_layout(
    template="none",
    width=W, height=H, margin=dict(l=0, r=0, t=0, b=0, pad=0, autoexpand=False), autosize=False, showlegend=False,
    paper_bgcolor="#FFFFFF", plot_bgcolor="rgba(0,0,0,0)", font=dict(family=FONT, color="#000000"),
    shapes=shapes, annotations=annos, **layout_axes)
fig.write_html("out.html", config={"displayModeBar": False},
               post_script="document.body.style.margin='0';document.body.style.padding='0';")
